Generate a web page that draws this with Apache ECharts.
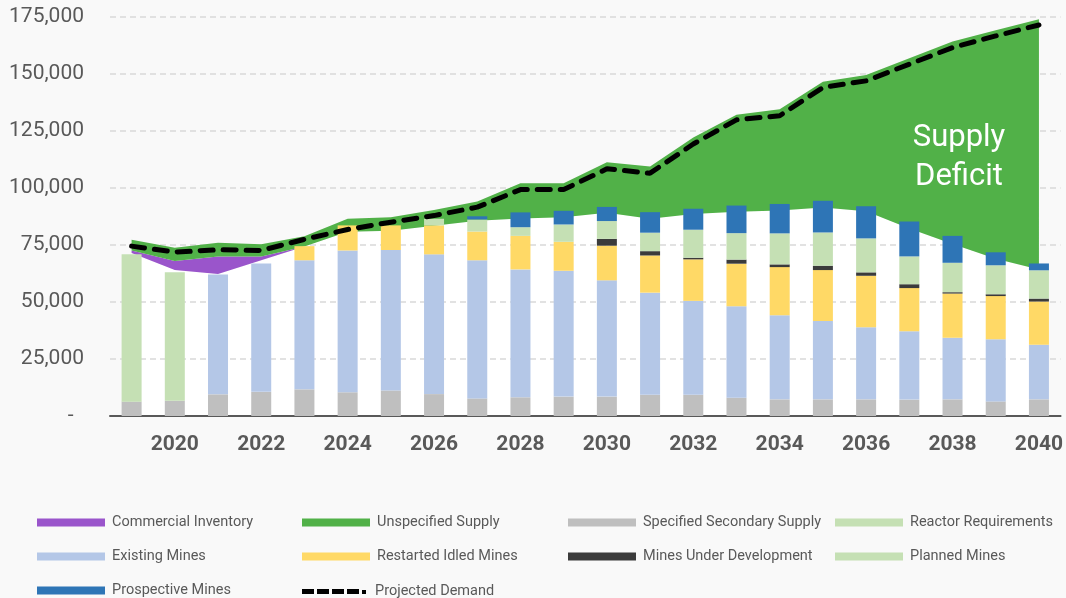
<!DOCTYPE html>
<html>
<head>
<meta charset="utf-8">
<script src="https://cdn.jsdelivr.net/npm/echarts@6.0.0/dist/echarts.min.js"></script>
<style>
  html, body { margin: 0; padding: 0; background: #f9f9f9; }
  #chart { width: 1066px; height: 598px; }
</style>
</head>
<body>
<div id="chart"></div>
<script>
// years on the category axis
const years = ["2019", "2020", "2021", "2022", "2023", "2024", "2025", "2026", "2027", "2028", "2029",
  "2030", "2031", "2032", "2033", "2034", "2035", "2036", "2037", "2038", "2039", "2040"];

// stacked bars
const secondarySupply = [6300, 6700, 9500, 10600, 11700, 10400, 11200, 9600, 7700, 8200, 8500,
  8500, 9300, 9300, 8000, 7300, 7300, 7300, 7200, 7300, 6400, 7300];
const reactorReq = [64600, 56400, null, null, null, null, null, null, null, null, null,
  null, null, null, null, null, null, null, null, null, null, null];
const existingMines = [null, null, 52600, 56300, 56600, 62200, 61600, 61300, 60600, 56100, 55200,
  51000, 44800, 41200, 40100, 36900, 34400, 31600, 30000, 27000, 27300, 23900];
const restartedMines = [null, null, null, null, 6200, 11000, 10800, 12700, 12600, 14700, 12700,
  15200, 16300, 18200, 18700, 21100, 22300, 22600, 18900, 19400, 18900, 19000];
const minesUnderDev = [null, null, null, null, null, null, null, null, null, null, null,
  3000, 1900, 700, 1800, 1200, 1900, 1500, 1700, 600, 800, 1300];
const plannedMines = [null, null, null, null, null, null, null, 2900, 5300, 3800, 7600,
  7800, 8100, 12300, 11600, 13600, 14600, 14900, 12200, 12900, 12700, 12400];
const prospectiveMines = [null, null, null, null, null, null, null, null, 1400, 6500, 6000,
  6200, 9000, 9200, 12100, 12900, 13900, 14100, 15300, 11800, 5700, 3000];

// stacked areas: total supply line, inventory, unspecified (deficit)
const totalSupply = [71500, 64000, 62300, 68300, 74300, 80800, 81300, 83400, 85600, 86600, 87200,
  89100, 86500, 88600, 89600, 90100, 91400, 89800, 82200, 75400, 69000, 64200];
const commercialInventory = [1100, 4000, 7700, 1700, 0, 0, 0, 0, 0, 0, 0,
  0, 0, 0, 0, 0, 0, 0, 0, 0, 0, 0];
const unspecifiedSupply = [4700, 5800, 6000, 5300, 4500, 5700, 5900, 6900, 8500, 15500, 14900,
  22200, 22900, 33600, 42500, 44400, 55200, 59800, 74700, 88800, 100200, 109800];

const projectedDemand = [74500, 71900, 72900, 72600, 77500, 81800, 85000, 87900, 91600, 99300, 99300,
  108400, 106500, 119300, 129900, 131700, 144100, 147000, 154300, 161600, 166700, 171500];

const legendNames = ["Commercial Inventory", "Unspecified Supply", "Specified Secondary Supply", "Reactor Requirements",
  "Existing Mines", "Restarted Idled Mines", "Mines Under Development", "Planned Mines",
  "Prospective Mines", "Projected Demand"];

const colors = {
  inventory: "#9a55cb",
  unspecified: "#51b148",
  secondary: "#bfbfbf",
  reactor: "#c5e0b4",
  existing: "#b4c7e7",
  restarted: "#ffd966",
  underDev: "#3b3b3b",
  planned: "#c5e0b4",
  prospective: "#2e75b6",
};

// dashed icon for the demand legend entry
const dashIcon = "path://M0,0h12v5h-12z M15,0h12v5h-12z M30,0h12v5h-12z M45,0h12v5h-12z M60,1h4v4h-4z";

const myChart = echarts.init(document.getElementById("chart"));

function barSeries(name, data, color) {
  return {
    name: name,
    type: "bar",
    stack: "bars",
    barWidth: 20,
    z: 3,
    itemStyle: { color: color },
    data: data,
  };
}

function areaSeries(name, data, color, z) {
  return {
    name: name,
    type: "line",
    stack: "area",
    symbol: "none",
    z: z,
    itemStyle: { color: color },
    lineStyle: { width: 0, color: color },
    areaStyle: { color: color, opacity: 1 },
    data: data,
  };
}

// one small legend per item so the 4-column grid lines up
const colLeft = [37, 302, 568, 835];
const rowTop = [515, 549, 583];
const legends = legendNames.map((name, i) => {
  const lg = {
    data: [name],
    left: colLeft[i % 4],
    top: rowTop[Math.floor(i / 4)],
    padding: 0,
    itemWidth: 68,
    itemHeight: 8,
    itemGap: 0,
    icon: "rect",
    textStyle: { fontFamily: "Roboto", fontSize: 14.5, color: "#595959", padding: [0, 0, 0, 2] },
  };
  if (name === "Projected Demand") {
    lg.icon = dashIcon;
    lg.itemHeight = 5;
    lg.top += 1;
  }
  return lg;
});

myChart.setOption({
  backgroundColor: "#f9f9f9",
  animation: false,
  legend: legends,
  grid: { left: 110, right: 4, top: 17, bottom: 182 },
  xAxis: {
    type: "category",
    data: years,
    axisLine: { lineStyle: { color: "#595959", width: 2 } },
    axisTick: { alignWithLabel: true, interval: 0, length: 5, lineStyle: { color: "#595959", width: 1.5 } },
    axisLabel: {
      interval: (idx) => idx % 2 === 1,
      margin: 18,
      fontFamily: "Roboto",
      fontSize: 21,
      fontWeight: "bold",
      color: "#595959",
    },
  },
  yAxis: {
    type: "value",
    min: 0,
    max: 175000,
    interval: 25000,
    axisLine: { show: false },
    axisTick: { show: false },
    splitLine: { lineStyle: { color: "#d9d9d9", type: [6, 4], width: 1.5 } },
    axisLabel: {
      margin: 26,
      fontFamily: "Roboto",
      fontSize: 21,
      color: "#595959",
      formatter: (v) => (v === 0 ? "-  " : v.toLocaleString("en-US")),
    },
  },
  graphic: [
    {
      type: "text",
      x: 959,
      y: 119,
      z: 10,
      style: {
        text: "Supply\nDeficit",
        fill: "#ffffff",
        font: "31px Roboto",
        lineHeight: 39,
        textAlign: "center",
        textVerticalAlign: "top",
      },
    },
  ],
  series: [
    areaSeries("Total Supply", totalSupply, "#ffffff", -1),
    areaSeries("Commercial Inventory", commercialInventory, colors.inventory, 1),
    areaSeries("Unspecified Supply", unspecifiedSupply, colors.unspecified, 1),
    barSeries("Specified Secondary Supply", secondarySupply, colors.secondary),
    barSeries("Reactor Requirements", reactorReq, colors.reactor),
    barSeries("Existing Mines", existingMines, colors.existing),
    barSeries("Restarted Idled Mines", restartedMines, colors.restarted),
    barSeries("Mines Under Development", minesUnderDev, colors.underDev),
    barSeries("Planned Mines", plannedMines, colors.planned),
    barSeries("Prospective Mines", prospectiveMines, colors.prospective),
    {
      name: "Projected Demand",
      type: "line",
      symbol: "none",
      z: 5,
      itemStyle: { color: "#000000" },
      lineStyle: { color: "#000000", width: 5, type: [13, 10], cap: "round" },
      data: projectedDemand,
    },
  ],
});
</script>
</body>
</html>
